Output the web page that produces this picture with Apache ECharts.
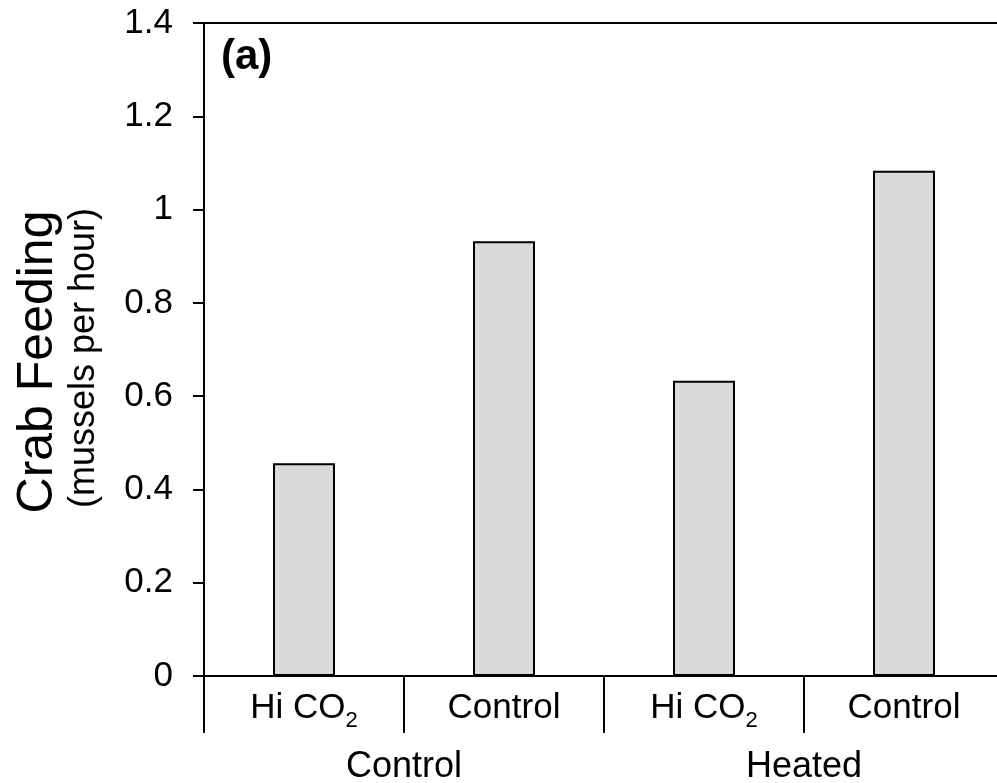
<!DOCTYPE html>
<html>
<head>
<meta charset="utf-8">
<script src="https://cdn.jsdelivr.net/npm/echarts@6/dist/echarts.min.js"></script>
<style>
html,body{margin:0;padding:0;background:#fff;overflow:hidden;width:997px;height:783px;}
#chart{width:1012px;height:783px;}
</style>
</head>
<body>
<div id="chart"></div>
<script>
const categories = ['Hi CO2', 'Control', 'Hi CO2', 'Control'];
const groups = ['Control', 'Heated'];
const feeding = [0.456, 0.932, 0.633, 1.083];
const yTicks = [0, 0.2, 0.4, 0.6, 0.8, 1, 1.2, 1.4];

const FONT = "'Liberation Sans', Arial, sans-serif";
const chart = echarts.init(document.getElementById('chart'));

chart.setOption({
  backgroundColor: '#fff',
  animation: false,
  grid: { left: 204, top: 23, width: 800, height: 653, containLabel: false, outerBoundsMode: 'none' },
  graphic: [
    { type: 'text', left: 221, top: 36, style: { text: '(a)', font: 'bold 42px ' + FONT, fill: '#000' } },
    { type: 'text', x: 38, y: 362, rotation: Math.PI / 2,
      style: { text: 'Crab Feeding', font: '50px ' + FONT, fill: '#000', align: 'center', verticalAlign: 'middle' } },
    { type: 'text', x: 84, y: 358, rotation: Math.PI / 2,
      style: { text: '(mussels per hour)', font: '36px ' + FONT, fill: '#000', align: 'center', verticalAlign: 'middle' } }
  ],
  xAxis: [
    {
      type: 'category', data: categories, position: 'bottom',
      axisLine: { show: true, lineStyle: { color: '#000', width: 2 } },
      axisTick: { show: true, interval: 0, length: 57, lineStyle: { color: '#000', width: 2 } },
      axisLabel: {
        interval: 0, margin: 15, color: '#000', fontFamily: FONT, fontSize: 35,
        formatter: v => v === 'Hi CO2' ? '{m|Hi CO}{s|2}' : '{m|' + v + '}',
        rich: {
          m: { fontSize: 35, fontFamily: FONT, color: '#000', lineHeight: 38, verticalAlign: 'top' },
          s: { fontSize: 22, fontFamily: FONT, color: '#000', lineHeight: 22, verticalAlign: 'top', padding: [19, 0, 0, 0] }
        }
      },
      splitLine: { show: false }
    },
    {
      type: 'category', data: groups, position: 'bottom',
      axisLine: { show: false }, axisTick: { show: false },
      axisLabel: { interval: 0, margin: 73, color: '#000', fontFamily: FONT, fontSize: 36 },
      splitLine: { show: false }
    },
    {
      type: 'category', data: categories, position: 'top',
      axisLine: { show: true, lineStyle: { color: '#000', width: 2 } },
      axisTick: { show: false }, axisLabel: { show: false }, splitLine: { show: false }
    }
  ],
  yAxis: {
    type: 'value', min: 0, max: 1.4, interval: 0.2,
    axisLine: { show: true, lineStyle: { color: '#000', width: 2 } },
    axisTick: { show: true, length: 11, inside: false, lineStyle: { color: '#000', width: 2 } },
    axisLabel: {
      margin: 31, color: '#000', fontFamily: FONT, fontSize: 35,
      formatter: v => { const t = yTicks.find(x => Math.abs(x - v) < 1e-9); return t === undefined ? '' : String(t); }
    },
    splitLine: { show: false }
  },
  series: [{
    type: 'bar', data: feeding, xAxisIndex: 0, barWidth: 62,
    itemStyle: { color: '#d9d9d9', borderColor: '#000', borderWidth: 2 }
  }]
});
</script>
</body>
</html>
